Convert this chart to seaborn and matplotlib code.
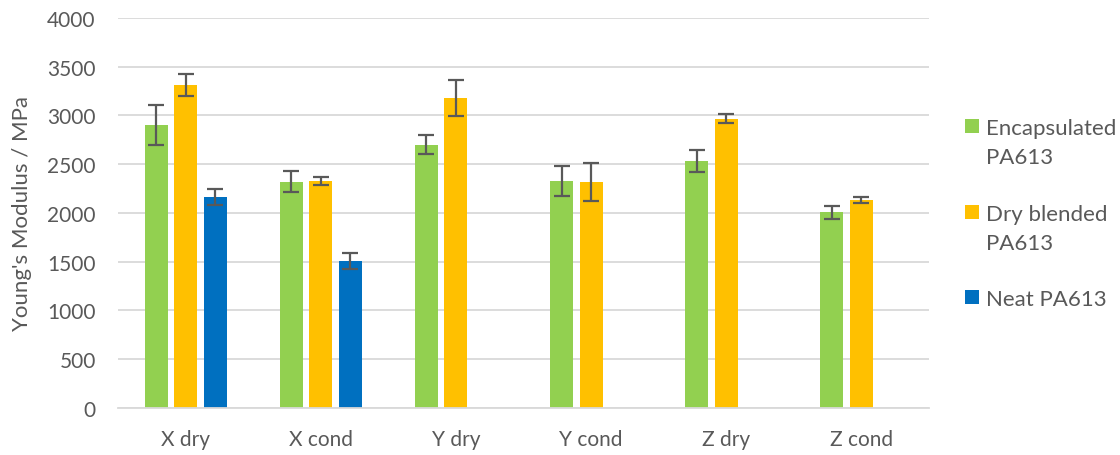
import numpy as np
import pandas as pd
import matplotlib
matplotlib.use("Agg")
import matplotlib.pyplot as plt
from matplotlib.patches import Rectangle
import seaborn as sns

# Young's modulus per build orientation / conditioning state
categories = ["X dry", "X cond", "Y dry", "Y cond", "Z dry", "Z cond"]
series = ["Encapsulated PA613", "Dry blended PA613", "Neat PA613"]
legend_lines = [["Encapsulated", "PA613"], ["Dry blended", "PA613"], ["Neat PA613"]]
encapsulated = [2900, 2320, 2700, 2330, 2530, 2005]
dry_blended = [3310, 2330, 3180, 2315, 2965, 2130]
neat = [2160, 1505, np.nan, np.nan, np.nan, np.nan]
encapsulated_err = [205, 107, 99, 155, 113, 68]
dry_blended_err = [112, 40, 187, 197, 45, 33]
neat_err = [80, 84, np.nan, np.nan, np.nan, np.nan]
colors = ["#92D050", "#FFC000", "#0070C0"]

values = [encapsulated, dry_blended, neat]
errors = [encapsulated_err, dry_blended_err, neat_err]

df = pd.DataFrame({
    "category": np.tile(categories, len(series)),
    "series": np.repeat(series, len(categories)),
    "value": np.concatenate(values),
})

sns.set_theme(style="white")
plt.rcParams["font.family"] = ["Lato", "DejaVu Sans"]
text_color = "#595959"

W, H = 1120, 456
fig = plt.figure(figsize=(W / 100, H / 100), dpi=100)
ax = fig.add_axes([118 / W, 1 - 409 / H, 811 / W, 390.2 / H])

sns.barplot(data=df, x="category", y="value", hue="series",
            hue_order=series, order=categories, palette=colors,
            width=0.655, gap=0.22, errorbar=None, saturation=1,
            linewidth=0, legend=False, ax=ax)

# error bars on top of each bar
for container, err in zip(ax.containers, errors):
    for patch, e in zip(container.patches, err):
        h = patch.get_height()
        if np.isnan(h) or np.isnan(e):
            continue
        xc = patch.get_x() + patch.get_width() / 2
        ax.errorbar(xc, h, yerr=e, fmt="none", ecolor="#595959",
                    elinewidth=1.6, capsize=6, capthick=1.6, zorder=5)

ax.set_ylim(0, 4000)
ax.set_xlim(-0.5, len(categories) - 0.5)
ax.set_yticks(np.arange(0, 4001, 500))
ax.yaxis.grid(True, color="#D9D9D9", linewidth=1.3)
ax.set_axisbelow(True)
for side in ["left", "right", "top"]:
    ax.spines[side].set_visible(False)
ax.spines["bottom"].set_color("#D9D9D9")
ax.spines["bottom"].set_linewidth(1.3)
ax.tick_params(axis="both", length=0, labelsize=15, colors=text_color)
ax.tick_params(axis="y", pad=16)
ax.tick_params(axis="x", pad=15)
ax.set_xlabel("")
ax.set_ylabel("Young's Modulus / MPa", fontsize=16, color=text_color, labelpad=11)

# legend: colour square aligned with the first line of each label
first_baselines = [134.7, 220.7, 306.0]
line_step = 29.3
for color, lines, base in zip(colors, legend_lines, first_baselines):
    fig.add_artist(Rectangle((965 / W, 1 - (base - 0.7) / H), 14 / W, 14 / H,
                             transform=fig.transFigure, facecolor=color,
                             edgecolor="none"))
    for i, line in enumerate(lines):
        fig.text(986 / W, 1 - (base + i * line_step) / H, line,
                 fontsize=16, color=text_color, va="baseline", ha="left")

fig.savefig("out.png", dpi=100)
